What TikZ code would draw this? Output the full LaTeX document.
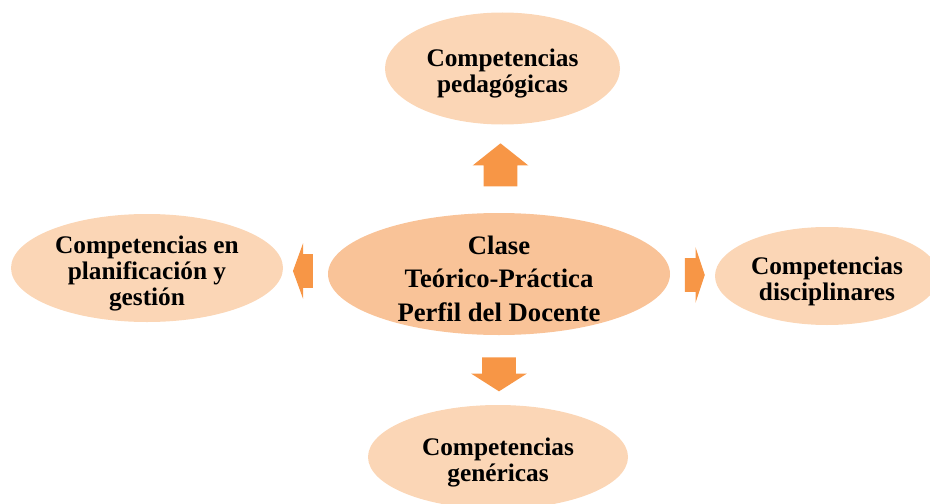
\documentclass[tikz,border=0pt]{standalone}
\usepackage{fontspec}
\setmainfont{Liberation Serif}
\usetikzlibrary{shapes.geometric,shapes.arrows}
\definecolor{arrowfill}{HTML}{F79646}
\definecolor{hubfill}{HTML}{F9C398}
\definecolor{leaffill}{HTML}{FBD6B6}
\newcommand{\lift}{\rule{0pt}{21pt}}

\begin{document}
\begin{tikzpicture}
[
    x=0.75pt, y=-0.75pt,
    hub/.style={ellipse, fill=hubfill, inner sep=0pt, inner ysep=-10pt, align=center,
        font=\bfseries\fontsize{20}{25}\selectfont},
    leaf/.style={ellipse, fill=leaffill, inner sep=0pt, inner ysep=-10pt, align=center,
        font=\bfseries\fontsize{19}{19.5}\selectfont},
    blockarrow/.style={single arrow, fill=arrowfill, inner xsep=0pt, inner ysep=16.5pt*0.75,
        single arrow head extend=11pt*0.75, single arrow head indent=0pt},
]
\clip (0,0) rectangle (930,503);
\node [hub, minimum width=342*0.75pt, minimum height=122*0.75pt] (clase) at (499,274)
    {\lift Clase\\Teórico-Práctica\\Perfil del Docente};
\node [leaf, minimum width=235*0.75pt, minimum height=112*0.75pt] (pedagogicas) at (502.5,68.5)
    {\lift Competencias\\pedagógicas};
\node [leaf, minimum width=272*0.75pt, minimum height=108*0.75pt] (planificacion) at (147,268)
    {\lift Competencias en\\planificación y\\gestión};
\node [leaf, minimum width=224*0.75pt, minimum height=98*0.75pt] (disciplinares) at (827,276)
    {\lift Competencias\\disciplinares};
\node [leaf, minimum width=260*0.75pt, minimum height=104*0.75pt] (genericas) at (498,457)
    {\lift Competencias\\genéricas};
% block arrows between hub and leaves
\node [blockarrow, rotate=90, minimum height=43*0.75pt, single arrow tip angle=103] (up) at (500.5,171.5) {};
\node [blockarrow, rotate=-90, minimum height=34*0.75pt, single arrow tip angle=115] (down) at (499,369) {};
\node [blockarrow, rotate=180, minimum height=20*0.75pt, single arrow tip angle=140] (left) at (306,271) {};
\node [blockarrow, minimum height=20*0.75pt, single arrow tip angle=143] (right) at (692,275) {};
\end{tikzpicture}
\end{document}
